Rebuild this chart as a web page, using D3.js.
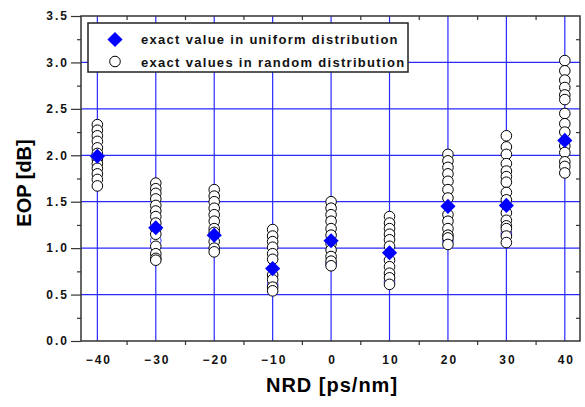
<!DOCTYPE html>
<html>
<head>
<meta charset="utf-8">
<script src="https://cdn.jsdelivr.net/npm/d3@7"></script>
<style>
  body { margin: 0; background: #fff; }
  svg { display: block; font-family: "Liberation Sans", Arial, sans-serif; }
</style>
</head>
<body>
<div id="chart"></div>
<script>
// NRD settings (ps/nm)
const nrd = [-40, -30, -20, -10, 0, 10, 20, 30, 40];

// EOP for the uniform distribution (blue diamonds)
const uniformEop = [1.99, 1.22, 1.14, 0.78, 1.08, 0.95, 1.45, 1.46, 2.16];

// EOP for random distributions (open circles), one list per NRD value
const randomEop = [
  [2.33, 2.27, 2.21, 2.15, 2.08, 2.02, 1.96, 1.91, 1.86, 1.80, 1.74, 1.67],
  [1.70, 1.64, 1.59, 1.53, 1.46, 1.40, 1.34, 1.27, 1.21, 1.15, 1.02, 0.94, 0.89, 0.87],
  [1.63, 1.56, 1.50, 1.43, 1.36, 1.29, 1.21, 1.17, 1.07, 1.00, 0.96],
  [1.20, 1.13, 1.07, 1.01, 0.94, 0.88, 0.71, 0.66, 0.58, 0.54],
  [1.50, 1.43, 1.36, 1.29, 1.21, 1.14, 1.05, 0.98, 0.91, 0.86, 0.81],
  [1.34, 1.27, 1.21, 1.15, 1.09, 1.02, 0.87, 0.80, 0.73, 0.68, 0.61],
  [2.01, 1.94, 1.87, 1.80, 1.72, 1.63, 1.54, 1.36, 1.29, 1.21, 1.14, 1.11, 1.04],
  [2.21, 2.09, 2.01, 1.91, 1.83, 1.77, 1.71, 1.60, 1.52, 1.38, 1.30, 1.24, 1.21, 1.13, 1.06],
  [3.02, 2.91, 2.81, 2.73, 2.65, 2.60, 2.45, 2.34, 2.25, 2.10, 2.03, 1.93, 1.88, 1.81]
];

// a few circles that show with a blue outline
const blueNrd = [-30, -10, 0, 10, 20, 30];
const blueEop = [1.08, 0.61, 0.83, 0.64, 1.08, 1.16];

const xTicks = [-40, -30, -20, -10, 0, 10, 20, 30, 40];
const xMinor = [-35, -25, -15, -5, 5, 15, 25, 35];
const yTicks = [0, 0.5, 1.0, 1.5, 2.0, 2.5, 3.0, 3.5];
const yMinor = [0.25, 0.75, 1.25, 1.75, 2.25, 2.75, 3.25];

const legendLabels = ['exact value in uniform distribution', 'exact values in random distribution'];

const width = 585, height = 407;
const plotLeft = 81, plotRight = 580, plotTop = 16, plotBottom = 341;

const svg = d3.select('#chart').append('svg')
  .attr('width', width)
  .attr('height', height);

const x = d3.scaleLinear().domain([-42.8, 42.6]).range([plotLeft, plotRight]);
const y = d3.scaleLinear().domain([0, 3.5]).range([plotBottom, plotTop]);

const gridColor = '#2a2aff';
const axisColor = '#333';

// grid
svg.append('g').selectAll('line')
  .data(xTicks).join('line')
  .attr('x1', d => x(d)).attr('x2', d => x(d))
  .attr('y1', plotTop).attr('y2', plotBottom)
  .attr('stroke', gridColor).attr('stroke-width', 1.2);

svg.append('g').selectAll('line')
  .data(yTicks.filter(d => d > 0 && d < 3.5)).join('line')
  .attr('x1', plotLeft).attr('x2', plotRight)
  .attr('y1', d => y(d)).attr('y2', d => y(d))
  .attr('stroke', gridColor).attr('stroke-width', 1.2);

// axes
const yAxis = d3.axisLeft(y).tickValues(yTicks).tickFormat(d3.format('.1f')).tickSize(10).tickPadding(2);
const gy = svg.append('g').attr('transform', `translate(${plotLeft},0)`).call(yAxis);
gy.select('.domain').remove();

svg.append('g').attr('transform', `translate(${plotLeft},0)`)
  .call(d3.axisLeft(y).tickValues(yMinor).tickSize(4).tickFormat(''))
  .select('.domain').remove();

const gx = svg.append('g').attr('transform', `translate(0,${plotBottom})`)
  .call(d3.axisBottom(x).tickValues(xTicks).tickSize(0).tickPadding(14));
gx.select('.domain').remove();

svg.append('g').attr('transform', `translate(0,${plotBottom})`)
  .call(d3.axisBottom(x).tickValues(xMinor).tickSize(4).tickFormat(''))
  .select('.domain').remove();

svg.append('g').attr('transform', `translate(0,${plotTop})`)
  .call(d3.axisBottom(x).tickValues(xMinor).tickSize(4).tickFormat(''))
  .select('.domain').remove();

svg.append('g').attr('transform', `translate(${plotRight},0)`)
  .call(d3.axisLeft(y).tickValues(yMinor).tickSize(4).tickFormat(''))
  .select('.domain').remove();

svg.selectAll('.tick line').attr('stroke', axisColor).attr('stroke-width', 1.2);
svg.selectAll('.tick text')
  .attr('fill', '#111')
  .style('font-size', '12px')
  .style('font-weight', 'bold')
  .style('letter-spacing', '2px');
gx.selectAll('.tick text').attr('dx', '1');

// frame
svg.append('rect')
  .attr('x', plotLeft).attr('y', plotTop)
  .attr('width', plotRight - plotLeft).attr('height', plotBottom - plotTop)
  .attr('fill', 'none').attr('stroke', axisColor).attr('stroke-width', 1.5);

// points
const pts = svg.append('g');
pts.selectAll('circle.blue')
  .data(blueNrd.map((n, i) => ({n, v: blueEop[i]})))
  .join('circle')
  .attr('class', 'blue')
  .attr('cx', d => x(d.n)).attr('cy', d => y(d.v)).attr('r', 5.3)
  .attr('fill', 'white').attr('stroke', '#3030ff').attr('stroke-width', 1);

const randomPts = [];
nrd.forEach((n, i) => randomEop[i].forEach(v => randomPts.push({n, v})));

pts.selectAll('circle.rand')
  .data(randomPts)
  .join('circle')
  .attr('class', 'rand')
  .attr('cx', d => x(d.n)).attr('cy', d => y(d.v)).attr('r', 5.3)
  .attr('fill', 'white').attr('stroke', '#000').attr('stroke-width', 1);

const diamond = d3.symbol().type(d3.symbolSquare).size(115);
pts.selectAll('path.uni')
  .data(nrd.map((n, i) => ({n, v: uniformEop[i]})))
  .join('path')
  .attr('class', 'uni')
  .attr('d', diamond)
  .attr('transform', d => `translate(${x(d.n)},${y(d.v)}) rotate(45)`)
  .attr('fill', '#0000ff');

// legend
const lg = svg.append('g');
lg.append('rect')
  .attr('x', 88).attr('y', 23).attr('width', 320).attr('height', 49)
  .attr('fill', 'white').attr('stroke', '#222').attr('stroke-width', 1.5);
lg.append('path')
  .attr('d', diamond)
  .attr('transform', 'translate(115,39.5) rotate(45)')
  .attr('fill', '#0000ff');
lg.append('circle')
  .attr('cx', 115).attr('cy', 61.5).attr('r', 5.3)
  .attr('fill', 'white').attr('stroke', '#000');
lg.selectAll('text')
  .data(legendLabels).join('text')
  .attr('x', 141)
  .attr('y', (d, i) => 44 + i * 22.5)
  .text(d => d)
  .style('font-size', '13px')
  .style('font-weight', 'bold')
  .style('letter-spacing', '1.3px')
  .attr('fill', '#111');

// axis titles
svg.append('text')
  .attr('x', 332).attr('y', 392)
  .attr('text-anchor', 'middle')
  .style('font-size', '20px').style('font-weight', 'bold')
  .style('letter-spacing', '1px')
  .text('NRD [ps/nm]');

svg.append('text')
  .attr('transform', 'translate(31,183) rotate(-90)')
  .attr('text-anchor', 'middle')
  .style('font-size', '20px').style('font-weight', 'bold')
  .text('EOP [dB]');
</script>
</body>
</html>
